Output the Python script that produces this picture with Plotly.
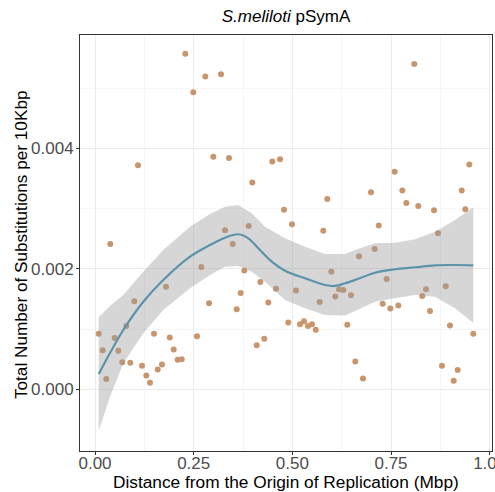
import plotly.graph_objects as go

# ---- observed points ----
pt_x = [0.2288, 0.2795, 0.3192, 0.2490, 0.1089, 0.2997, 0.3395, 0.4492, 0.4687, 0.3985,
        0.4788, 0.3294, 0.3894, 0.3489, 0.0388, 0.8090, 0.9483, 0.7593, 0.6993, 0.7786,
        0.9291, 0.5885, 0.7887, 0.8191, 0.8589, 0.9382, 0.4991, 0.5784, 0.7188, 0.8690,
        0.7086, 0.2693, 0.3783, 0.4188, 0.3691, 0.4586, 0.1799, 0.0996, 0.2888, 0.3590,
        0.4391, 0.4897, 0.0793, 0.0094, 0.1495, 0.2584, 0.0499, 0.1893, 0.4097, 0.4289,
        0.0195, 0.0590, 0.1994, 0.0692, 0.0894, 0.1191, 0.2095, 0.2197, 0.1697, 0.1589,
        0.1300, 0.0286, 0.1393, 0.6689, 0.5987, 0.7390, 0.5093, 0.6182, 0.6291, 0.8386,
        0.8885, 0.6088, 0.6486, 0.8292, 0.5693, 0.7289, 0.7684, 0.7482, 0.8487, 0.5194,
        0.5295, 0.5397, 0.5498, 0.5592, 0.6392, 0.8994, 0.9585, 0.6595, 0.6790, 0.8791,
        0.9189, 0.9088]
pt_y = [0.00557, 0.00519, 0.00523, 0.00493, 0.00372, 0.00386, 0.00384, 0.00378, 0.00382, 0.00343,
        0.00298, 0.00264, 0.00271, 0.00241, 0.00241, 0.00540, 0.00373, 0.00361, 0.00327, 0.00330,
        0.00330, 0.00316, 0.00309, 0.00304, 0.00297, 0.00299, 0.00274, 0.00263, 0.00272, 0.00259,
        0.00233, 0.00203, 0.00197, 0.00178, 0.00160, 0.00167, 0.00170, 0.00146, 0.00143, 0.00133,
        0.00144, 0.00111, 0.00105, 0.00092, 0.00092, 0.00088, 0.00085, 0.00086, 0.00073, 0.00084,
        0.00065, 0.00064, 0.00066, 0.00045, 0.00044, 0.00039, 0.00049, 0.00050, 0.00041, 0.00033,
        0.00023, 0.00017, 0.00011, 0.00221, 0.00195, 0.00183, 0.00164, 0.00166, 0.00165, 0.00166,
        0.00171, 0.00154, 0.00156, 0.00155, 0.00145, 0.00142, 0.00139, 0.00134, 0.00130, 0.00108,
        0.00113, 0.00105, 0.00108, 0.00099, 0.00107, 0.00106, 0.00092, 0.00046, 0.00018, 0.00039,
        0.00032, 0.00014]

# ---- smoothed fit ----
fit_x = [0.0094, 0.0717, 0.1224, 0.1730, 0.2407, 0.2914, 0.3294, 0.3631, 0.3884, 0.4137,
         0.4477, 0.4814, 0.5321, 0.5827, 0.6081, 0.6334, 0.6587, 0.7094, 0.7601, 0.8107,
         0.8614, 0.9121, 0.9585]
fit_y = [0.000254, 0.000984, 0.001454, 0.001814, 0.002201, 0.002395, 0.002516, 0.002573, 0.002506, 0.002340,
         0.002118, 0.001968, 0.001842, 0.001731, 0.001715, 0.001759, 0.001814, 0.001935, 0.001992, 0.002025,
         0.002058, 0.002063, 0.002058]

# ---- confidence band ----
band_x = [0.0094, 0.0380, 0.0717, 0.1224, 0.1730, 0.2407, 0.2914, 0.3294, 0.3631, 0.3970, 0.4307,
          0.4814, 0.5321, 0.5827, 0.6334, 0.6587, 0.7094, 0.7601, 0.8107, 0.8614, 0.9121, 0.9585]
band_hi = [0.001195, 0.001383, 0.001565, 0.001952, 0.002312, 0.002699, 0.002910, 0.003031, 0.003059, 0.002921, 0.002699,
           0.002506, 0.002367, 0.002246, 0.002246, 0.002312, 0.002423, 0.002433, 0.002490, 0.002616, 0.002810, 0.003021]
band_lo = [-0.000687, -0.000123, 0.000432, 0.000929, 0.001316, 0.001676, 0.001897, 0.002035, 0.002046, 0.001952, 0.001786,
           0.001482, 0.001344, 0.001233, 0.001225, 0.001300, 0.001454, 0.001510, 0.001565, 0.001537, 0.001344, 0.001105]

x_ticks = [0.0, 0.25, 0.5, 0.75, 1.0]
x_ticklabels = ["0.00", "0.25", "0.50", "0.75", "1.00"]
y_ticks = [0.0, 0.002, 0.004]
y_ticklabels = ["0.000", "0.002", "0.004"]

title_text = "<i>S.meliloti</i> pSymA"
x_title = "Distance from the Origin of Replication (Mbp)"
y_title = "Total Number of Substitutions per 10Kbp"

FONT = "Liberation Sans, Arial, Helvetica, sans-serif"

fig = go.Figure()
fig.add_trace(go.Scatter(x=pt_x, y=pt_y, mode="markers",
                         marker=dict(color="#c8956d", size=6, line=dict(width=0)),
                         hoverinfo="skip", showlegend=False))
fig.add_trace(go.Scatter(x=band_x + band_x[::-1], y=band_hi + band_lo[::-1],
                         mode="lines", fill="toself", fillcolor="rgba(153,153,153,0.4)",
                         line=dict(width=0), hoverinfo="skip", showlegend=False))
fig.add_trace(go.Scatter(x=fit_x, y=fit_y, mode="lines", line=dict(color="#5b93ab", width=2.2, shape="spline"),
                         hoverinfo="skip", showlegend=False))

axis_common = dict(
    showline=True, mirror=True, linecolor="#333333", linewidth=1,
    showgrid=True, gridcolor="#ebebeb", gridwidth=1.2,
    zeroline=False, ticks="outside", ticklen=3, tickcolor="#333333", tickwidth=1,
    tickfont=dict(family=FONT, size=17, color="#4d4d4d"),
    automargin=False, ticklabeloverflow="allow",
)

fig.update_layout(
    width=495, height=492,
    margin=dict(l=80, r=3, t=35, b=41),
    paper_bgcolor="white", plot_bgcolor="white",
    font=dict(family=FONT, color="black"),
    title=dict(text=title_text, x=0.5, xref="paper", xanchor="center",
               y=1 - 16 / 492, yref="container", yanchor="middle",
               font=dict(family=FONT, size=17, color="black")),
    xaxis=dict(range=[-0.038, 1.0058], tickvals=x_ticks, ticktext=x_ticklabels,
               ticklabelstandoff=-6,
               minor=dict(tickvals=[0.125, 0.375, 0.625, 0.875], showgrid=True, gridcolor="#f6f6f6", gridwidth=0.6, ticks=""),
               **axis_common),
    yaxis=dict(range=[-0.001024, 0.00588], tickvals=y_ticks, ticktext=y_ticklabels,
               ticklabelstandoff=-1,
               minor=dict(tickvals=[0.001, 0.003, 0.005], showgrid=True, gridcolor="#f6f6f6", gridwidth=0.6, ticks=""),
               **axis_common),
    annotations=[
        dict(text=x_title, xref="paper", yref="paper", x=0.5, y=-0.0745,
             xanchor="center", yanchor="middle", showarrow=False,
             font=dict(family=FONT, size=17.3, color="black")),
        dict(text=y_title, xref="paper", yref="paper", x=-0.1432, y=0.495, textangle=-90,
             xanchor="center", yanchor="middle", showarrow=False,
             font=dict(family=FONT, size=17.2, color="black")),
    ],
)

fig.write_html("out.html")
